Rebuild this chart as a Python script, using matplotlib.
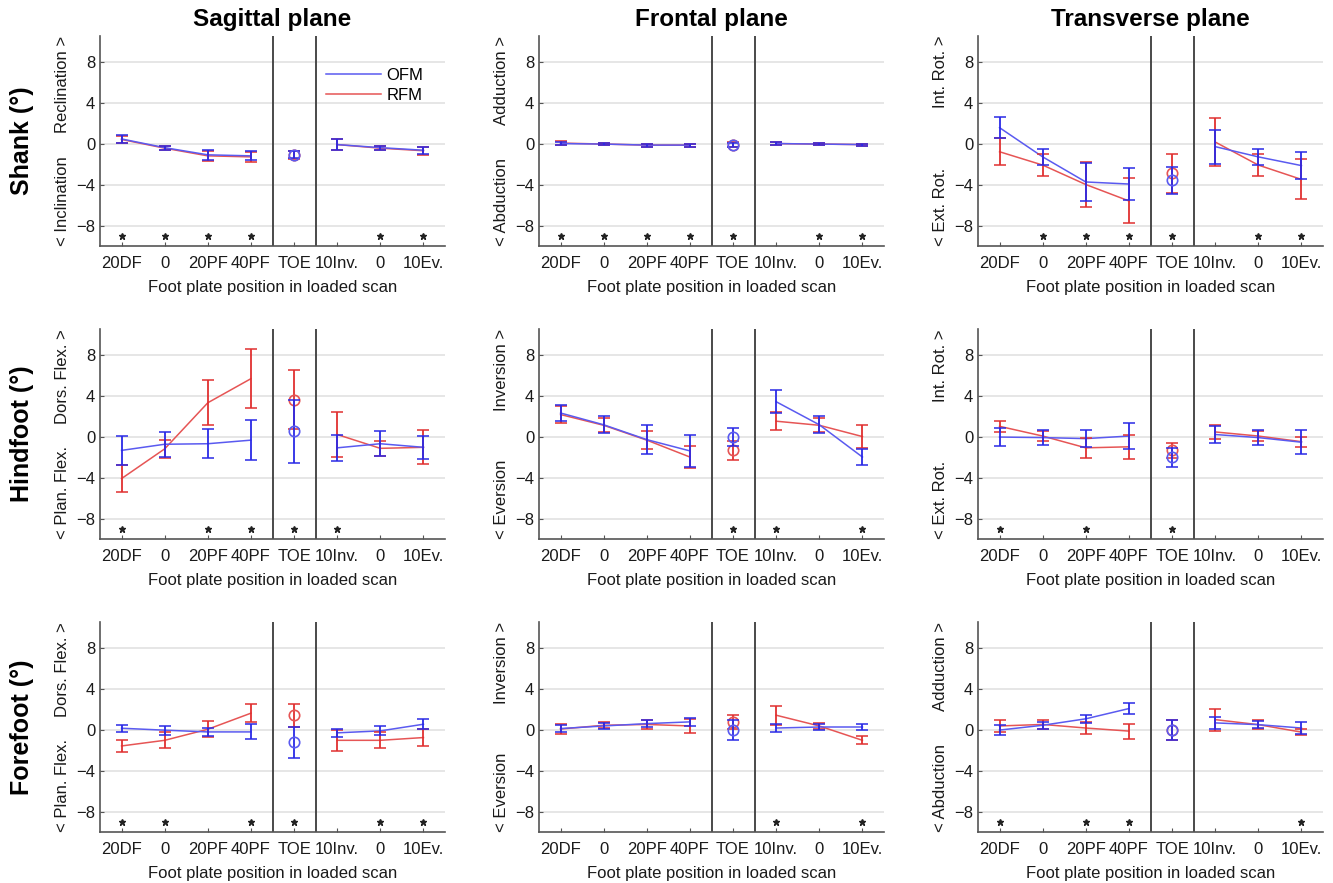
import matplotlib.pyplot as plt
import numpy as np

plt.rcParams["font.family"] = ["Liberation Sans", "DejaVu Sans"]

# Foot plate positions (x axis categories)
positions = ["20DF", "0", "20PF", "40PF", "TOE", "10Inv.", "0", "10Ev."]
planes = ["Sagittal plane", "Frontal plane", "Transverse plane"]
segments = ["Shank (°)", "Hindfoot (°)", "Forefoot (°)"]

pos_labels = [
    ["Reclination >", "Adduction >", "Int. Rot. >"],
    ["Dors. Flex. >", "Inversion >", "Int. Rot. >"],
    ["Dors. Flex. >", "Inversion >", "Adduction >"],
]
neg_labels = [
    ["< Inclination", "< Abduction", "< Ext. Rot."],
    ["< Plan. Flex.", "< Eversion", "< Ext. Rot."],
    ["< Plan. Flex.", "< Eversion", "< Abduction"],
]

# ---- Shank ----
shank_sag_ofm = [0.45, -0.4, -1.1, -1.2, -1.1, -0.1, -0.4, -0.65]
shank_sag_ofm_sd = [0.35, 0.2, 0.5, 0.45, 0.35, 0.5, 0.2, 0.35]
shank_sag_rfm = [0.4, -0.45, -1.2, -1.3, -1.1, -0.1, -0.45, -0.7]
shank_sag_rfm_sd = [0.35, 0.2, 0.5, 0.5, 0.4, 0.5, 0.2, 0.4]
shank_sag_sig = [1, 2, 3, 4, 7, 8]

shank_fro_ofm = [0.0, -0.05, -0.15, -0.15, -0.1, 0.0, -0.05, -0.1]
shank_fro_ofm_sd = [0.15, 0.1, 0.15, 0.15, 0.2, 0.15, 0.1, 0.1]
shank_fro_rfm = [0.05, -0.05, -0.15, -0.15, -0.1, 0.0, -0.05, -0.1]
shank_fro_rfm_sd = [0.2, 0.1, 0.15, 0.15, 0.25, 0.15, 0.1, 0.1]
shank_fro_sig = [1, 2, 3, 4, 5, 7, 8]

shank_tra_ofm = [1.55, -1.3, -3.75, -3.95, -3.6, -0.3, -1.3, -2.15]
shank_tra_ofm_sd = [1.05, 0.78, 1.9, 1.6, 1.3, 1.65, 0.75, 1.35]
shank_tra_rfm = [-0.8, -2.1, -4.0, -5.6, -2.9, 0.15, -2.1, -3.5]
shank_tra_rfm_sd = [1.3, 1.1, 2.2, 2.2, 1.9, 2.3, 1.05, 1.95]
shank_tra_sig = [2, 3, 4, 5, 7, 8]

# ---- Hindfoot ----
hind_sag_ofm = [-1.35, -0.75, -0.7, -0.35, 0.5, -1.1, -0.7, -1.05]
hind_sag_ofm_sd = [1.45, 1.2, 1.4, 1.95, 3.05, 1.25, 1.2, 1.15]
hind_sag_rfm = [-4.1, -1.2, 3.3, 5.65, 3.6, 0.2, -1.15, -1.05]
hind_sag_rfm_sd = [1.3, 0.85, 2.2, 2.9, 2.85, 2.15, 0.75, 1.65]
hind_sag_sig = [1, 3, 4, 5, 6]

hind_fro_ofm = [2.3, 1.15, -0.3, -1.4, -0.05, 3.4, 1.15, -2.0]
hind_fro_ofm_sd = [0.75, 0.82, 1.45, 1.55, 0.85, 1.1, 0.85, 0.78]
hind_fro_rfm = [2.15, 1.1, -0.35, -2.0, -1.35, 1.5, 1.1, 0.0]
hind_fro_rfm_sd = [0.8, 0.7, 0.9, 1.1, 0.9, 0.9, 0.7, 1.13]
hind_fro_sig = [5, 6, 8]

hind_tra_ofm = [-0.05, -0.1, -0.2, 0.05, -2.0, 0.2, -0.1, -0.55]
hind_tra_ofm_sd = [0.86, 0.7, 0.8, 1.25, 0.93, 0.8, 0.7, 1.2]
hind_tra_rfm = [1.0, 0.05, -1.1, -1.0, -1.35, 0.45, 0.05, -0.5]
hind_tra_rfm_sd = [0.52, 0.45, 1.0, 1.2, 0.75, 0.72, 0.45, 0.5]
hind_tra_sig = [1, 3, 5]

# ---- Forefoot ----
fore_sag_ofm = [0.13, -0.06, -0.23, -0.23, -1.25, -0.32, -0.13, 0.52]
fore_sag_ofm_sd = [0.36, 0.44, 0.4, 0.73, 1.5, 0.4, 0.43, 0.48]
fore_sag_rfm = [-1.6, -1.05, 0.03, 1.6, 1.4, -1.05, -1.05, -0.78]
fore_sag_rfm_sd = [0.6, 0.78, 0.77, 0.9, 1.12, 1.04, 0.77, 0.8]
fore_sag_sig = [1, 2, 4, 5, 7, 8]

fore_fro_ofm = [0.1, 0.35, 0.58, 0.75, -0.05, 0.15, 0.25, 0.25]
fore_fro_ofm_sd = [0.35, 0.32, 0.35, 0.4, 1.0, 0.4, 0.28, 0.3]
fore_fro_rfm = [0.05, 0.42, 0.5, 0.35, 0.75, 1.4, 0.35, -1.05]
fore_fro_rfm_sd = [0.45, 0.3, 0.4, 0.72, 0.7, 0.93, 0.3, 0.4]
fore_fro_sig = [6, 8]

fore_tra_ofm = [-0.05, 0.42, 1.05, 2.05, -0.05, 0.65, 0.48, 0.15]
fore_tra_ofm_sd = [0.5, 0.36, 0.4, 0.57, 0.95, 0.6, 0.36, 0.55]
fore_tra_rfm = [0.35, 0.5, 0.15, -0.15, -0.05, 0.97, 0.48, -0.25]
fore_tra_rfm_sd = [0.57, 0.45, 0.6, 0.73, 0.95, 1.07, 0.43, 0.3]
fore_tra_sig = [1, 3, 4, 8]

panels = [
    [(shank_sag_ofm, shank_sag_ofm_sd, shank_sag_rfm, shank_sag_rfm_sd, shank_sag_sig),
     (shank_fro_ofm, shank_fro_ofm_sd, shank_fro_rfm, shank_fro_rfm_sd, shank_fro_sig),
     (shank_tra_ofm, shank_tra_ofm_sd, shank_tra_rfm, shank_tra_rfm_sd, shank_tra_sig)],
    [(hind_sag_ofm, hind_sag_ofm_sd, hind_sag_rfm, hind_sag_rfm_sd, hind_sag_sig),
     (hind_fro_ofm, hind_fro_ofm_sd, hind_fro_rfm, hind_fro_rfm_sd, hind_fro_sig),
     (hind_tra_ofm, hind_tra_ofm_sd, hind_tra_rfm, hind_tra_rfm_sd, hind_tra_sig)],
    [(fore_sag_ofm, fore_sag_ofm_sd, fore_sag_rfm, fore_sag_rfm_sd, fore_sag_sig),
     (fore_fro_ofm, fore_fro_ofm_sd, fore_fro_rfm, fore_fro_rfm_sd, fore_fro_sig),
     (fore_tra_ofm, fore_tra_ofm_sd, fore_tra_rfm, fore_tra_rfm_sd, fore_tra_sig)],
]

BLUE_LINE, BLUE_ERR = "#5a5af0", "#2a2ae6"
RED_LINE, RED_ERR = "#e65555", "#e03030"
x = np.arange(1, len(positions) + 1)


def draw_model(ax, mean, sd, line_c, err_c, label=None):
    m = np.asarray(mean)
    s = np.asarray(sd)
    ax.plot(x[:4], m[:4], color=line_c, lw=1.1, label=label, zorder=3)
    ax.plot(x[5:], m[5:], color=line_c, lw=1.1, zorder=3)
    ax.errorbar(x, m, yerr=s, fmt="none", ecolor=err_c, elinewidth=1.3,
                capsize=4.5, capthick=1.1, zorder=4)
    ax.plot(x[4], m[4], "o", mfc="none", mec=line_c, ms=7.5, mew=1.2, zorder=4)


W, H = 1333, 883
fig = plt.figure(figsize=(W / 100, H / 100), dpi=100)
col_left = [100, 539, 978]
row_bottom = [246, 539, 832]
ax_w, ax_h = 345, 210

for r in range(3):
    for c in range(3):
        ax = fig.add_axes((col_left[c] / W, 1 - row_bottom[r] / H, ax_w / W, ax_h / H))
        ofm, ofm_sd, rfm, rfm_sd, sig = panels[r][c]
        draw_model(ax, rfm, rfm_sd, RED_LINE, RED_ERR, label="RFM")
        draw_model(ax, ofm, ofm_sd, BLUE_LINE, BLUE_ERR, label="OFM")
        ax.plot(sig, [-9] * len(sig), "*", color="#222222", ms=5, zorder=5)

        ax.axvline(4.5, color="#3c3c3c", lw=1.3, zorder=2)
        ax.axvline(5.5, color="#3c3c3c", lw=1.3, zorder=2)

        ax.set_xlim(0.5, 8.5)
        ax.set_ylim(-10, 10.5)
        ax.set_yticks([-8, -4, 0, 4, 8])
        ax.set_xticks(x)
        ax.set_xticklabels(positions)
        ax.yaxis.grid(True, color="#e2e2e2", lw=1.2)
        ax.set_axisbelow(True)
        for sp in ("top", "right"):
            ax.spines[sp].set_visible(False)
        for sp in ("left", "bottom"):
            ax.spines[sp].set_color("#555555")
            ax.spines[sp].set_linewidth(1.2)
        ax.tick_params(direction="in", length=3, color="#555555",
                       labelsize=12, labelcolor="#1a1a1a")
        ax.tick_params(axis="x", pad=7)
        ax.set_xlabel("Foot plate position in loaded scan", fontsize=12,
                      color="#1a1a1a", labelpad=7)

        ax.text(-0.108, 1.0, pos_labels[r][c], transform=ax.transAxes, rotation=90,
                ha="center", va="top", fontsize=12, color="#1a1a1a")
        ax.text(-0.108, 0.0, neg_labels[r][c], transform=ax.transAxes, rotation=90,
                ha="center", va="bottom", fontsize=12, color="#1a1a1a")

        if r == 0:
            ax.set_title(planes[c], fontsize=17.5, fontweight="bold", pad=7)
        if c == 0:
            fig.text(22 / W, 1 - (row_bottom[r] - ax_h / 2) / H, segments[r],
                     rotation=90, ha="center", va="center",
                     fontsize=18, fontweight="bold")
        if r == 0 and c == 0:
            h, l = ax.get_legend_handles_labels()
            ax.legend(h[::-1], l[::-1], loc="upper right", frameon=False,
                      bbox_to_anchor=(0.98, 0.92), fontsize=12,
                      handlelength=3.3, handletextpad=0.3, labelspacing=0.3)

fig.savefig("out.png", dpi=100)
